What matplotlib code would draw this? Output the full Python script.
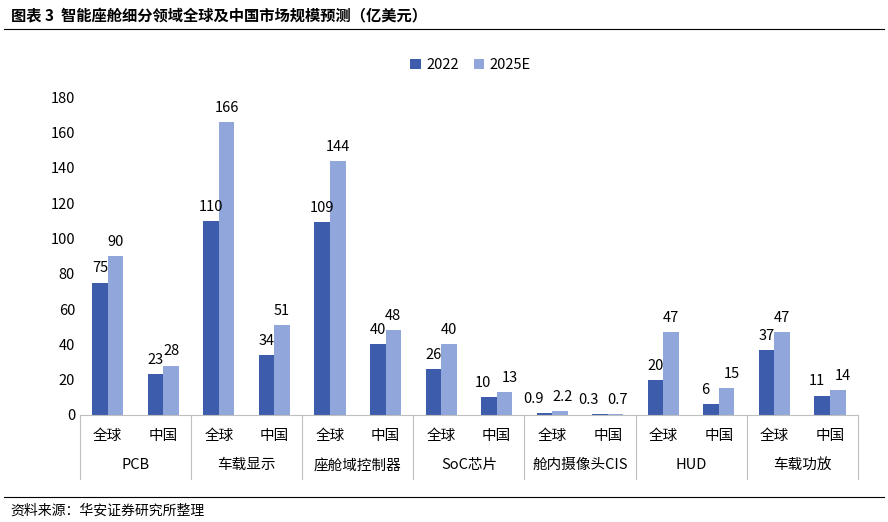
import matplotlib.pyplot as plt
import numpy as np

plt.rcParams['font.family'] = ['Noto Sans CJK SC', 'DejaVu Sans']

groups = ['PCB', '车载显示', '座舱域控制器', 'SoC芯片', '舱内摄像头CIS', 'HUD', '车载功放']
subs = ['全球', '中国']
v2022 = [75, 23, 110, 34, 109, 40, 26, 10, 0.9, 0.3, 20, 6, 37, 11]
v2025 = [90, 28, 166, 51, 144, 48, 40, 13, 2.2, 0.7, 47, 15, 47, 14]
lab2022 = ['75', '23', '110', '34', '109', '40', '26', '10', '0.9', '0.3', '20', '6', '37', '11']
lab2025 = ['90', '28', '166', '51', '144', '48', '40', '13', '2.2', '0.7', '47', '15', '47', '14']

c1 = '#3D5CAB'
c2 = '#91A6DB'

fig = plt.figure(figsize=(8.88, 5.22), dpi=100)
ax = fig.add_axes([0.090, 0.205, 0.876, 0.609])

n = len(v2022)
x = np.arange(n)
w = 0.28
ax.bar(x - w / 2, v2022, w, color=c1, label='2022')
ax.bar(x + w / 2, v2025, w, color=c2, label='2025E')

for i in range(n):
    dx1 = dx2 = 0
    if v2022[i] < 15:
        dx1, dx2 = -0.1, 0.1
    if v2022[i] < 1:
        dx1, dx2 = -0.2, 0.04
    ax.text(x[i] - w / 2 + dx1, v2022[i] + 4, lab2022[i], ha='center', va='bottom', fontsize=10.5)
    ax.text(x[i] + w / 2 + dx2, v2025[i] + 4, lab2025[i], ha='center', va='bottom', fontsize=10.5)

ax.set_xlim(-0.5, n - 0.5)
ax.set_ylim(0, 180)
ax.set_yticks(range(0, 181, 20))
ax.tick_params(axis='y', length=0, labelsize=10.5)
ax.set_xticks([])
for s in ['top', 'right', 'left']:
    ax.spines[s].set_visible(False)
ax.spines['bottom'].set_color('#BFBFBF')

tr = ax.get_xaxis_transform()
for i in range(n):
    ax.text(x[i], -0.065, subs[i % 2], ha='center', va='center', fontsize=10.5, transform=tr)
for g in range(len(groups)):
    ax.text(2 * g + 0.5, -0.158, groups[g], ha='center', va='center', fontsize=10.5, transform=tr)
for b in range(len(groups) + 1):
    ax.plot([2 * b - 0.5, 2 * b - 0.5], [0, -0.2], color='#BFBFBF', lw=0.8, transform=tr, clip_on=False)

fig.legend(loc='center', bbox_to_anchor=(0.53, 0.875), ncol=2, frameon=False, fontsize=10.5,
           handlelength=0.7, handleheight=0.7, columnspacing=1.0, handletextpad=0.4)

fig.text(0.012, 0.968, '图表 3  智能座舱细分领域全球及中国市场规模预测（亿美元）', fontsize=11, fontweight='bold', va='center')
fig.add_artist(plt.Line2D([0.005, 0.995], [0.945, 0.945], color='black', lw=0.8))
fig.add_artist(plt.Line2D([0.005, 0.995], [0.048, 0.048], color='black', lw=0.8))
fig.text(0.012, 0.022, '资料来源：华安证券研究所整理', fontsize=10, va='center')

fig.savefig('out.png')
